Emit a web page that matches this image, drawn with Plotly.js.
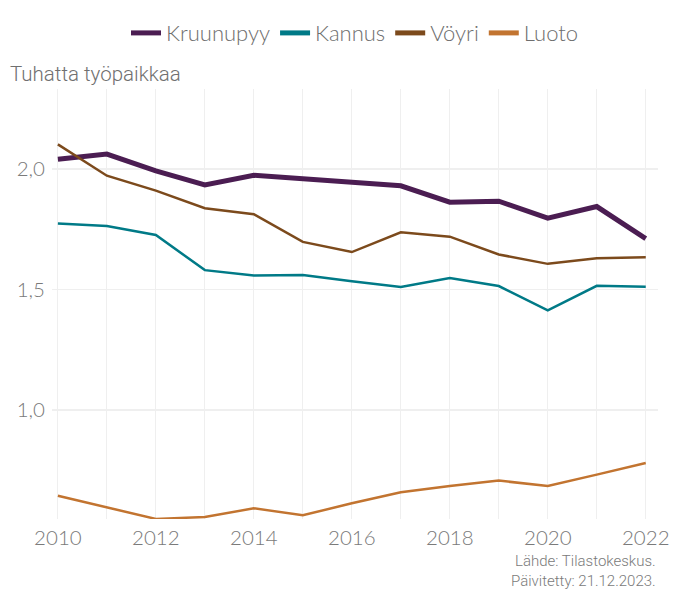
<!DOCTYPE html>
<html>
<head>
<meta charset="utf-8">
<script src="https://cdn.plot.ly/plotly-3.0.1.min.js"></script>
<style>html,body{margin:0;padding:0;background:#fff;}#chart{width:683px;height:590px;}</style>
</head>
<body>
<div id="chart"></div>
<script>
const years = [2010,2011,2012,2013,2014,2015,2016,2017,2018,2019,2020,2021,2022];
const kruunupyy = [2.040,2.062,1.992,1.934,1.974,1.959,1.943,1.930,1.862,1.866,1.796,1.844,1.711];
const kannus    = [1.774,1.763,1.726,1.580,1.558,1.560,1.534,1.510,1.547,1.514,1.413,1.515,1.511];
const voyri     = [2.102,1.972,1.910,1.837,1.812,1.697,1.655,1.737,1.719,1.645,1.606,1.629,1.633];
const luoto     = [0.643,0.595,0.547,0.555,0.591,0.562,0.612,0.658,0.684,0.706,0.684,0.731,0.779];
const seriesNames = ["Kruunupyy","Kannus","Vöyri","Luoto"];
const seriesValues = [kruunupyy, kannus, voyri, luoto];
const colors = ["#4b1d52","#007a87","#7c4a1c","#c27430"];
const widths = [5, 2.5, 2.5, 2.5];

const traces = [];
seriesNames.forEach((n,i)=>{
  traces.push({x: years, y: seriesValues[i], type:'scatter', mode:'lines', name:n,
    line:{color:colors[i], width:widths[i]}, showlegend:false, legendgroup:n, hoverinfo:'x+y'});
});
// legend entries with uniform swatch thickness
seriesNames.forEach((n,i)=>{
  traces.push({x:[null], y:[null], type:'scatter', mode:'lines', name:n,
    line:{color:colors[i], width:5}, showlegend:true, legendgroup:n});
});

const tickFont = {family:'Lato, sans-serif', size:20.5, color:'#7a7a7a', weight:300};
const layout = {
  width:683, height:590,
  margin:{l:52, r:25, t:87, b:71},
  paper_bgcolor:'#fff', plot_bgcolor:'#fff',
  separators:',.',
  showlegend:true,
  legend:{orientation:'h', x:0.5, xanchor:'center', y:1.13, yanchor:'middle',
    font:{family:'Lato, sans-serif', size:22, color:'#6e6e6e', weight:300},
    itemwidth:30, tracegroupgap:0, bgcolor:'rgba(0,0,0,0)'},
  xaxis:{range:[2009.88, 2022.25], tickmode:'array', tickvals:[2010,2012,2014,2016,2018,2020,2022],
    ticktext:['2010','2012','2014','2016','2018','2020','2022'],
    showgrid:true, gridcolor:'#efefef', gridwidth:1,
    minor:{dtick:1, tick0:2010, showgrid:true, gridcolor:'#efefef', gridwidth:1},
    zeroline:false, showline:false, ticks:'', tickfont:tickFont, ticklabelstandoff:4},
  yaxis:{range:[0.5467, 2.332], tickmode:'array', tickvals:[1.0,1.5,2.0], tickformat:'.1f',
    showgrid:true, gridcolor:'#efefef', gridwidth:1.5,
    zeroline:false, showline:false, ticks:'', tickfont:tickFont, ticklabelstandoff:6},
  annotations:[
    {text:'Tuhatta työpaikkaa', xref:'paper', yref:'paper', x:-44/606, y:1+(87-72)/432,
     xanchor:'left', yanchor:'middle', showarrow:false,
     font:{family:'Roboto, sans-serif', size:20.5, color:'#707070', weight:300}},
    {text:'Lähde: Tilastokeskus.<br>Päivitetty: 21.12.2023.', xref:'paper', yref:'paper',
     x:1, y:-(571.5-519)/432, xanchor:'right', yanchor:'middle', align:'right', showarrow:false,
     font:{family:'Roboto, sans-serif', size:15, color:'#7a7a7a', weight:300}}
  ]
};
Plotly.newPlot('chart', traces, layout, {displayModeBar:false, staticPlot:true});
</script>
</body>
</html>
